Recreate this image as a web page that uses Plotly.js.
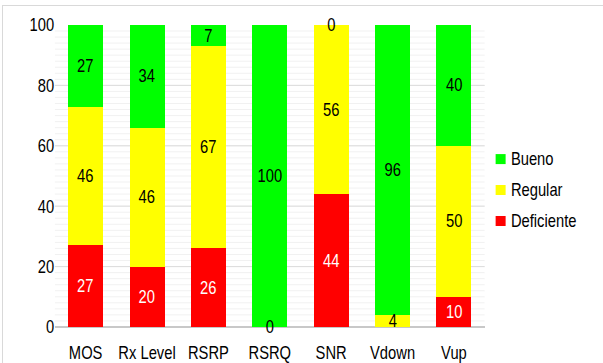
<!DOCTYPE html>
<html>
<head>
<meta charset="utf-8">
<script src="https://cdn.plot.ly/plotly-3.0.1.min.js"></script>
<style>
  html, body { margin: 0; padding: 0; background: #fff; }
  #wrap { position: relative; width: 603px; height: 363px; overflow: hidden; }
  /* condensed lettering: draw wider, then squeeze horizontally */
  #chart { position: absolute; left: 0; top: 0; transform-origin: 0 0; }
  #frame { position: absolute; left: 2px; top: 5px; width: 700px; height: 500px;
           border: 1px solid #d9d9d9; pointer-events: none; }
</style>
</head>
<body>
<div id="wrap">
  <div id="chart"></div>
  <div id="frame"></div>
</div>
<script>
// Indicator categories
const categories = ['MOS', 'Rx Level', 'RSRP', 'RSRQ', 'SNR', 'Vdown', 'Vup'];

// Percentage of samples per quality class (null = no sample)
const deficiente = [27, 20, 26, null, 44, null, 10];
const regular    = [46, 46, 67, 0, 56, 4, 50];
const bueno      = [27, 34, 7, 100, 0, 96, 40];

const seriesNames  = ['Deficiente', 'Regular', 'Bueno'];
const seriesValues = [deficiente, regular, bueno];
const seriesColors = ['#ff0000', '#ffff00', '#00ff00'];
const labelColors  = ['#ffffff', '#000000', '#000000'];

const yTicks = [0, 20, 40, 60, 80, 100];

const FONT = '"Liberation Sans", Arial, sans-serif';
const SQUEEZE = 0.82;          // horizontal condensing factor
const W = 603, H = 363;
const px = v => v / SQUEEZE;   // screen px -> pre-squeeze px (horizontal)

const chartDiv = document.getElementById('chart');
chartDiv.style.width = px(W) + 'px';
chartDiv.style.height = H + 'px';
chartDiv.style.transform = 'scaleX(' + SQUEEZE + ')';

const traces = seriesNames.map((name, i) => ({
  type: 'bar',
  name: name,
  x: categories,
  y: seriesValues[i],
  marker: { color: seriesColors[i], line: { width: 0 } },
  hoverinfo: 'x+y+name',
  showlegend: false
}));

// Value labels centred on each stacked segment
const annotations = [];
const base = categories.map(() => 0);
seriesValues.forEach((vals, i) => {
  vals.forEach((v, j) => {
    if (v === null) return;
    annotations.push({
      x: categories[j], y: base[j] + v / 2, xref: 'x', yref: 'y',
      text: String(v), showarrow: false,
      font: { family: FONT, size: 18, color: labelColors[i] },
      xanchor: 'center', yanchor: 'middle'
    });
    base[j] += v;
  });
});

// Legend (top to bottom: Bueno, Regular, Deficiente)
const legendY = [0.351, 0.4536, 0.556];
const shapes = [];
seriesNames.forEach((name, i) => {
  shapes.push({
    type: 'rect', xref: 'paper', yref: 'paper',
    xsizemode: 'pixel', ysizemode: 'pixel',
    xanchor: 1.0256, yanchor: legendY[i],
    x0: 0, x1: px(10), y0: -5, y1: 5,
    fillcolor: seriesColors[i], line: { width: 0 }
  });
  annotations.push({
    x: 1.0565, y: legendY[i], xref: 'paper', yref: 'paper',
    text: name, showarrow: false, xanchor: 'left', yanchor: 'middle',
    font: { family: FONT, size: 18, color: '#000' }
  });
});

const layout = {
  width: px(W), height: H,
  margin: { l: px(55), r: px(118), t: 25, b: 36 },
  paper_bgcolor: '#ffffff', plot_bgcolor: '#ffffff',
  barmode: 'stack',
  bargap: 0.43,
  showlegend: false,
  font: { family: FONT, size: 18, color: '#000' },
  xaxis: {
    type: 'category',
    tickangle: 0,
    tickfont: { family: FONT, size: 18, color: '#000' },
    showgrid: false, zeroline: false, showline: false,
    ticks: '', ticklabelstandoff: 13
  },
  yaxis: {
    range: [0, 100],
    tickvals: yTicks,
    ticktext: yTicks.map(String),
    tickfont: { family: FONT, size: 18, color: '#000' },
    showgrid: true, gridcolor: '#d9d9d9', gridwidth: 1,
    minor: { dtick: 2, showgrid: true, gridcolor: '#f0f0f0', gridwidth: 1 },
    zeroline: true, zerolinecolor: '#c8c8c8', zerolinewidth: 1.5,
    showline: false, ticks: '', ticklabelstandoff: px(16)
  },
  annotations: annotations,
  shapes: shapes
};

Plotly.newPlot(chartDiv, traces, layout, { displayModeBar: false, staticPlot: true });
</script>
</body>
</html>
